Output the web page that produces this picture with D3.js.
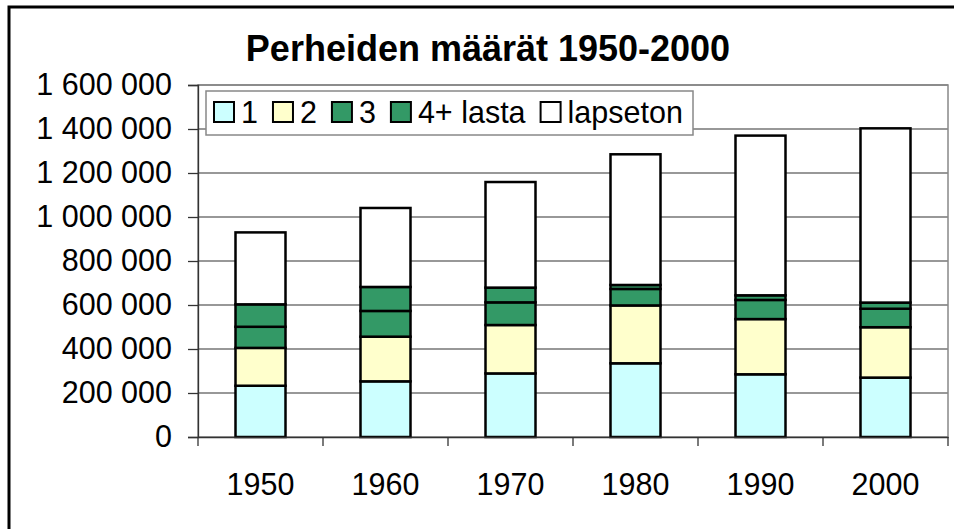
<html>
    <head>
        <script src="https://d3js.org/d3.v7.min.js"></script>
        <style>
            body { margin: 0; background: #fff; }
            text { font-family: "Liberation Sans", Arial, sans-serif; }
        </style>
    </head>
    <body>
        <script type="text/javascript">
            // Perheiden määrät lasten lukumäärän mukaan
            const years = ["1950", "1960", "1970", "1980", "1990", "2000"];
            const yksi = [233000, 253000, 289000, 335000, 285000, 270000];
            const kaksi = [172000, 203000, 220000, 263000, 251000, 229000];
            const kolme = [96000, 117000, 103000, 75000, 87000, 84000];
            const nelja = [102000, 109000, 67000, 18000, 21000, 28000];
            const lapseton = [327000, 359000, 480000, 594000, 726000, 792000];

            const seriesKeys = ["1", "2", "3", "4+ lasta", "lapseton"];
            const seriesColors = ["#ccffff", "#ffffcc", "#339966", "#339966", "#ffffff"];
            const yTicks = [0, 200000, 400000, 600000, 800000, 1000000, 1200000, 1400000, 1600000];

            const width = 954;
            const height = 529;
            const plot = {left: 198, right: 948, top: 85, bottom: 437};
            const fontSize = "30.5px";

            var data = years.map(function(y, i) {
                return {year: y, "1": yksi[i], "2": kaksi[i], "3": kolme[i],
                        "4+ lasta": nelja[i], "lapseton": lapseton[i]};
            });
            var stacked = d3.stack().keys(seriesKeys)(data);

            const svg = d3.select("body")
                .append("svg")
                .attr("width", width)
                .attr("height", height);

            // outer frame, runs off the right and bottom edge
            svg.append("rect")
                .attr("x", 9).attr("y", 7)
                .attr("width", 980).attr("height", 560)
                .style("fill", "none")
                .style("stroke", "#000")
                .style("stroke-width", 3);

            var x = d3.scaleBand()
                .domain(years)
                .range([plot.left, plot.right])
                .paddingInner(0.6)
                .paddingOuter(0.3);

            var y = d3.scaleLinear()
                .domain([0, 1600000])
                .range([plot.bottom, plot.top]);

            var fi = d3.formatLocale({decimal: ",", thousands: "\u00a0", grouping: [3], currency: ["", " €"]});
            var fmt = fi.format(",");

            // gridlines
            svg.append("g")
                .selectAll("line")
                .data(yTicks.slice(1))
                .enter()
                .append("line")
                .attr("x1", plot.left).attr("x2", plot.right)
                .attr("y1", d => y(d)).attr("y2", d => y(d))
                .style("stroke", "#333")
                .style("stroke-width", 1.2);

            // plot area border (gray)
            svg.append("rect")
                .attr("x", plot.left).attr("y", plot.top)
                .attr("width", plot.right - plot.left)
                .attr("height", plot.bottom - plot.top)
                .style("fill", "none")
                .style("stroke", "#888")
                .style("stroke-width", 1.5);

            // bars
            svg.append("g")
                .selectAll("g")
                .data(stacked)
                .enter()
                .append("g")
                .style("fill", (d, i) => seriesColors[i])
                .selectAll("rect")
                .data(d => d)
                .enter()
                .append("rect")
                .attr("x", d => x(d.data.year))
                .attr("width", x.bandwidth())
                .attr("y", d => y(d[1]))
                .attr("height", d => y(d[0]) - y(d[1]))
                .style("stroke", "#000")
                .style("stroke-width", 2.5);

            // y axis
            var yAxis = svg.append("g")
                .attr("transform", "translate(" + plot.left + ",0)")
                .call(d3.axisLeft(y).tickValues(yTicks).tickFormat(fmt).tickSize(10).tickPadding(16));
            yAxis.selectAll("text")
                .style("font-size", fontSize)
                .style("fill", "#000");
            yAxis.selectAll("line, path").style("stroke", "#333").style("stroke-width", 1.3);

            // x axis: labels at band centres, ticks between bands
            var xAxis = svg.append("g")
                .attr("transform", "translate(0," + plot.bottom + ")")
                .call(d3.axisBottom(x).tickSize(0).tickPadding(36));
            xAxis.select(".domain").style("stroke", "#333").style("stroke-width", 1.3);
            xAxis.selectAll("text")
                .style("font-size", fontSize)
                .style("fill", "#000");

            var step = x.step();
            svg.append("g")
                .selectAll("line")
                .data(d3.range(years.length + 1))
                .enter()
                .append("line")
                .attr("x1", i => plot.left + i * step)
                .attr("x2", i => plot.left + i * step)
                .attr("y1", plot.bottom)
                .attr("y2", plot.bottom + 9)
                .style("stroke", "#333")
                .style("stroke-width", 1.3);

            // title
            svg.append("text")
                .attr("x", 488)
                .attr("y", 61)
                .attr("text-anchor", "middle")
                .style("font-size", "36px")
                .style("font-weight", "bold")
                .text("Perheiden määrät 1950-2000");

            // legend
            var legend = svg.append("g");
            legend.append("rect")
                .attr("x", 206).attr("y", 91)
                .attr("width", 487).attr("height", 44)
                .style("fill", "#fff")
                .style("stroke", "#888")
                .style("stroke-width", 1.5);

            var lx = 214;
            seriesKeys.forEach(function(k, i) {
                legend.append("rect")
                    .attr("x", lx).attr("y", 102)
                    .attr("width", 20).attr("height", 20)
                    .style("fill", seriesColors[i])
                    .style("stroke", "#000")
                    .style("stroke-width", 2);
                var t = legend.append("text")
                    .attr("x", lx + 27)
                    .attr("y", 123)
                    .style("font-size", fontSize)
                    .text(k);
                lx = lx + 27 + t.node().getComputedTextLength() + 15;
            });
        </script>
    </body>
</html>
